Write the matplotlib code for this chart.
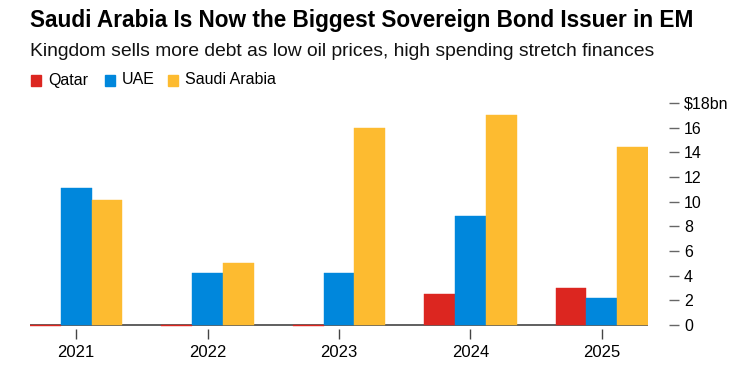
import matplotlib
matplotlib.use("Agg")
import matplotlib.pyplot as plt
import numpy as np
from matplotlib.patches import Rectangle

plt.rcParams['font.family'] = ['Liberation Sans', 'DejaVu Sans']

years = ["2021", "2022", "2023", "2024", "2025"]
qatar = [-0.1, -0.1, -0.1, 2.5, 3.0]
uae = [11.1, 4.2, 4.2, 8.8, 2.2]
saudi = [10.15, 5.0, 16.0, 17.05, 14.45]
series_names = ["Qatar", "UAE", "Saudi Arabia"]
colors = ["#DC2620", "#0087DC", "#FDBB30"]
yticks = [0, 2, 4, 6, 8, 10, 12, 14, 16, 18]
ytick_labels = ["0", "2", "4", "6", "8", "10", "12", "14", "16", "$18bn"]

W, H = 752, 385
fig = plt.figure(figsize=(W / 100, H / 100), dpi=100)

ylo, yhi = -0.3, 18.2
ppu = (325 - 103) / 18.0
top_px = 103 - (yhi - 18) * ppu
bot_px = 325 - ylo * ppu
ax = fig.add_axes([30 / W, (H - bot_px) / H, 618 / W, (bot_px - top_px) / H])

x = np.arange(len(years))
bw = 0.234
for i, (vals, c) in enumerate(zip([qatar, uae, saudi], colors)):
    ax.bar(x + (i - 1) * bw, vals, width=bw, color=c, zorder=3,
           edgecolor=c, linewidth=0.3)

ax.axhline(0, color="#444444", lw=1.2, zorder=2)
ax.set_xlim(-0.351, 4.351)
ax.set_ylim(ylo, yhi)

for s in ["top", "left", "bottom"]:
    ax.spines[s].set_visible(False)
ax.spines["right"].set_position(("outward", 15))
ax.spines["right"].set_visible(False)

ax.yaxis.tick_right()
ax.set_yticks(yticks)
ax.set_yticklabels(ytick_labels, fontsize=11.5)
ax.tick_params(axis="y", length=7, width=1, color="#666666", pad=4,
               labelcolor="#000000")
ax.set_xticks(x)
ax.set_xticklabels(years, fontsize=12)
ax.tick_params(axis="x", length=7, width=1, color="#444444", pad=5)

fig.text(30 / W, 1 - 20 / H, "Saudi Arabia Is Now the Biggest Sovereign Bond Issuer in EM",
         fontsize=16.3, fontweight="bold", va="center", ha="left")
fig.text(30 / W, 1 - 52 / H, "Kingdom sells more debt as low oil prices, high spending stretch finances",
         fontsize=13.9, va="center", ha="left", color="#111111")

lx = [31, 105, 168]
for px, name, c in zip(lx, series_names, colors):
    fig.patches.append(Rectangle((px / W, 1 - 86 / H), 10 / W, 11 / H,
                                 transform=fig.transFigure, color=c))
    fig.text((px + 17) / W, 1 - 80 / H, name, fontsize=11.5, va="center", ha="left")

fig.savefig("out.png", dpi=100)
